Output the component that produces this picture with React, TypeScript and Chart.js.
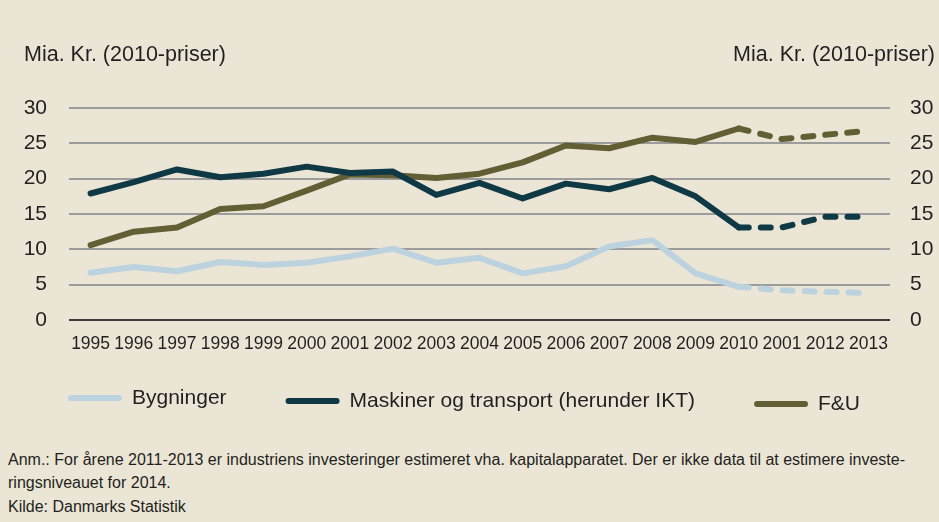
import React, { useEffect, useRef } from "react";
import { Chart, registerables } from "chart.js";

Chart.register(...registerables);

// Categories (the reference prints "2001" where 2011 is meant)
const years = [
  "1995", "1996", "1997", "1998", "1999", "2000", "2001", "2002", "2003", "2004",
  "2005", "2006", "2007", "2008", "2009", "2010", "2001", "2012", "2013",
];

// Series values, bn DKK (2010 prices)
const bygninger = [6.7, 7.5, 6.9, 8.2, 7.8, 8.1, 9.0, 10.1, 8.1, 8.8, 6.6, 7.6, 10.4, 11.3, 6.6, 4.7, 4.2, 4.0, 3.8];
const maskiner = [17.9, 19.5, 21.3, 20.2, 20.7, 21.7, 20.8, 21.0, 17.7, 19.4, 17.2, 19.3, 18.5, 20.1, 17.5, 13.1, 13.1, 14.6, 14.6];
const fu = [10.6, 12.5, 13.1, 15.7, 16.1, 18.3, 20.6, 20.5, 20.1, 20.7, 22.3, 24.7, 24.3, 25.8, 25.2, 27.1, 25.6, 26.2, 26.8];

const seriesNames = ["Bygninger", "Maskiner og transport (herunder IKT)", "F&U"];
const yTickValues = [0, 5, 10, 15, 20, 25, 30];
const estimateStartIndex = 15; // segments after 2010 are estimates (dashed)

const axisTitle = "Mia. Kr. (2010-priser)";
const noteLines = [
  "Anm.: For årene 2011-2013 er industriens investeringer estimeret vha. kapitalapparatet. Der er ikke data til at estimere investe-",
  "ringsniveauet for 2014.",
  "Kilde: Danmarks Statistik",
];

const BG = "#EBE5D6";
const FONT = "'Liberation Sans', Arial, Helvetica, sans-serif";
const TEXT = "#231F20";
const colors = ["#BCD3DF", "#0F3944", "#625F34"];

// Legend drawn in one row below the x axis, like the reference
const rowLegend = {
  id: "rowLegend",
  afterDraw(chart: any) {
    const ctx = chart.ctx as CanvasRenderingContext2D;
    const area = chart.chartArea;
    const lineLen = 48; // plus round caps (3px each side)
    const textGap = 13;
    const itemGap = 62;
    const yOffsets = [-3, 0, 3];
    ctx.save();
    ctx.font = `21px ${FONT}`;
    ctx.textBaseline = "middle";
    ctx.textAlign = "left";
    let x = area.left + 2;
    const baseY = area.bottom + 81;
    chart.data.datasets.forEach((ds: any, i: number) => {
      const y = baseY + yOffsets[i];
      ctx.strokeStyle = ds.borderColor;
      ctx.lineWidth = 6;
      ctx.lineCap = "round";
      ctx.setLineDash([]);
      ctx.beginPath();
      ctx.moveTo(x, y);
      ctx.lineTo(x + lineLen, y);
      ctx.stroke();
      ctx.fillStyle = TEXT;
      const tx = x + lineLen + textGap;
      ctx.fillText(ds.label, tx, y);
      x = tx + ctx.measureText(ds.label).width + itemGap;
    });
    ctx.restore();
  },
};

export default function App() {
  const canvasRef = useRef<HTMLCanvasElement | null>(null);

  useEffect(() => {
    if (!canvasRef.current) return;
    const dashed = (ctx: any) => (ctx.p0DataIndex >= estimateStartIndex ? [10, 12] : undefined);
    const mk = (label: string, data: number[], color: string) => ({
      label,
      data,
      borderColor: color,
      backgroundColor: color,
      borderWidth: 6,
      borderCapStyle: "round" as const,
      borderJoinStyle: "round" as const,
      pointRadius: 0,
      pointHoverRadius: 0,
      tension: 0,
      yAxisID: "y",
      segment: { borderDash: dashed },
    });
    const chart = new Chart(canvasRef.current, {
      type: "line",
      data: {
        labels: years,
        datasets: [
          mk(seriesNames[0], bygninger, colors[0]),
          mk(seriesNames[1], maskiner, colors[1]),
          mk(seriesNames[2], fu, colors[2]),
        ],
      },
      plugins: [rowLegend],
      options: {
        responsive: false,
        animation: false,
        devicePixelRatio: 1,
        layout: { padding: { top: 108, left: 0, right: 0, bottom: 70 } },
        plugins: {
          tooltip: { enabled: false },
          title: { display: false },
          legend: { display: false },
        },
        scales: {
          x: {
            type: "category",
            offset: true,
            grid: { display: false, drawTicks: false },
            border: { display: false },
            ticks: {
              autoSkip: false,
              maxRotation: 0,
              padding: 14,
              color: TEXT,
              font: { family: FONT, size: 17.5 },
            },
            afterFit: (s: any) => {
              s.height = 40;
            },
          },
          y: {
            position: "left",
            min: 0,
            max: 30,
            afterBuildTicks: (s: any) => {
              s.ticks = yTickValues.map((v) => ({ value: v }));
            },
            grid: {
              drawTicks: false,
              lineWidth: 2,
              color: (ctx: any) => (ctx.tick && ctx.tick.value === 0 ? "#3A3A3A" : "#9C9C9C"),
            },
            border: { display: false },
            ticks: {
              padding: 22,
              color: TEXT,
              font: { family: FONT, size: 21 },
            },
            afterFit: (s: any) => {
              s.width = 69;
            },
          },
          y2: {
            position: "right",
            min: 0,
            max: 30,
            afterBuildTicks: (s: any) => {
              s.ticks = yTickValues.map((v) => ({ value: v }));
            },
            grid: { display: false, drawTicks: false },
            border: { display: false },
            ticks: {
              padding: 20,
              color: TEXT,
              font: { family: FONT, size: 21 },
            },
            afterFit: (s: any) => {
              s.width = 49;
            },
          },
        },
      },
    } as any);
    return () => chart.destroy();
  }, []);

  return (
    <div
      style={{
        position: "fixed",
        left: 0,
        top: 0,
        width: 939,
        height: 522,
        background: BG,
        fontFamily: FONT,
        color: TEXT,
        overflow: "hidden",
      }}
    >
      <canvas ref={canvasRef} width={939} height={430} style={{ position: "absolute", left: 0, top: 0, display: "block" }} />
      <div style={{ position: "absolute", left: 24, top: 41, fontSize: 21.5, lineHeight: "26px", whiteSpace: "nowrap" }}>
        {axisTitle}
      </div>
      <div style={{ position: "absolute", right: 4, top: 41, fontSize: 21.5, lineHeight: "26px", whiteSpace: "nowrap" }}>
        {axisTitle}
      </div>
      <div style={{ position: "absolute", left: 8, top: 448, fontSize: 16, lineHeight: "24px", whiteSpace: "nowrap" }}>
        {noteLines.map((l, i) => (
          <div key={i} style={{ height: i === 1 ? 24 : 23 }}>{l}</div>
        ))}
      </div>
    </div>
  );
}
